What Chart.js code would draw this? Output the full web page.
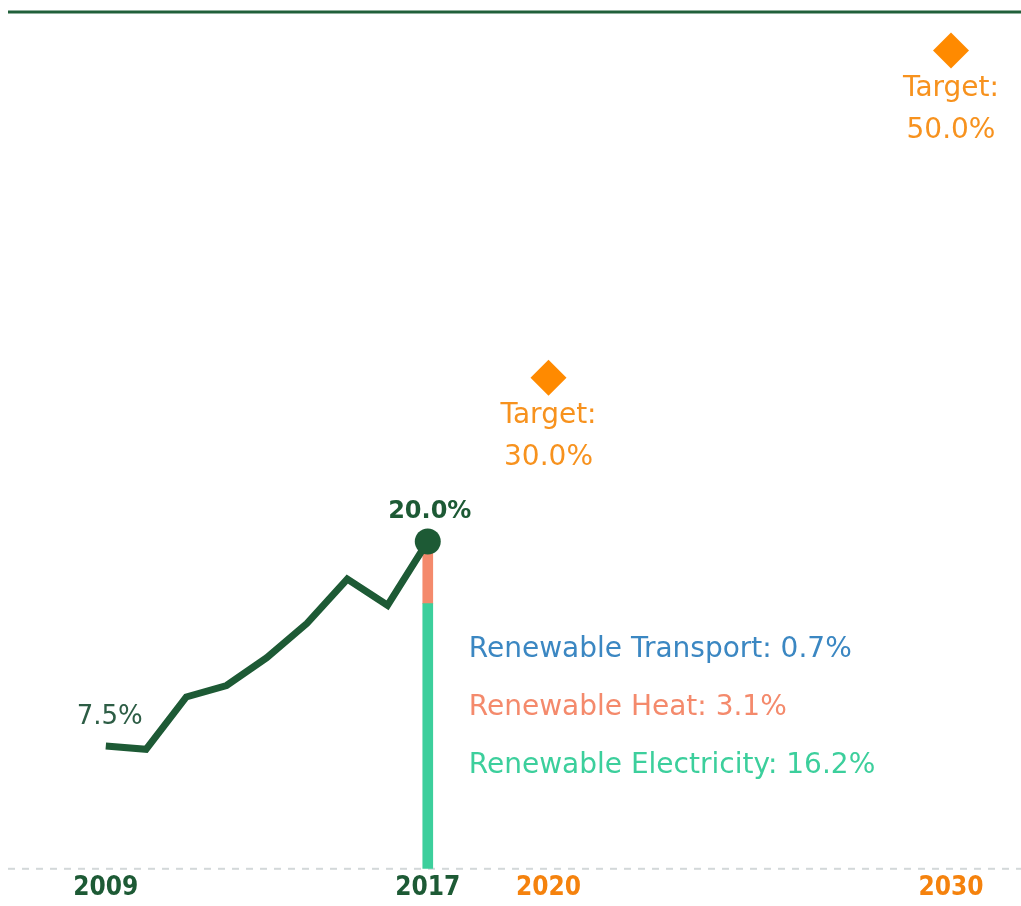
<!DOCTYPE html>
<html lang="en">
<head>
  <meta charset="UTF-8">
  <title>Renewable energy share</title>
  <script src="https://cdn.jsdelivr.net/npm/chart.js"></script>
  <style>
    html, body { margin: 0; padding: 0; background: #fff; }
    canvas { display: block; }
  </style>
</head>
<body>
  <canvas id="chart" width="1021" height="906"></canvas>

  <script>
    // data
    const years = [2009, 2010, 2011, 2012, 2013, 2014, 2015, 2016, 2017];
    const share = [7.5, 7.3, 10.5, 11.2, 12.9, 15.0, 17.7, 16.1, 20.0];
    const targetYears = [2020, 2030];
    const targetValues = [30.0, 50.0];
    const breakdownLabels = ['Renewable Electricity', 'Renewable Heat', 'Renewable Transport'];
    const breakdownValues = [16.2, 3.1, 0.7];
    const breakdownColors = ['#3ccf9c', '#f48a6c', '#3b87c2'];
    const tickYears = [2009, 2017, 2020, 2030];

    const green = '#1d5a35';
    const orange = '#f7921e';
    const lastYear = years[years.length - 1];

    // floating bar pieces stacked on top of each other
    let acc = 0;
    const barSets = breakdownValues.map((v, i) => {
      const seg = [acc, acc + v];
      acc += v;
      return {
        type: 'bar',
        label: breakdownLabels[i],
        data: [{ x: lastYear, y: seg }],
        backgroundColor: breakdownColors[i],
        barThickness: 10,
        grouped: false,
        order: 2
      };
    });

    const annotations = {
      id: 'annotations',
      beforeDraw(chart) {
        const { ctx, chartArea } = chart;
        const y0 = chart.scales.y.getPixelForValue(0);
        ctx.save();
        // top rule
        ctx.strokeStyle = '#20603a';
        ctx.lineWidth = 3;
        ctx.beginPath();
        ctx.moveTo(chartArea.left, chartArea.top);
        ctx.lineTo(chartArea.right, chartArea.top);
        ctx.stroke();
        // dashed baseline
        ctx.strokeStyle = '#d3d8d9';
        ctx.lineWidth = 2;
        ctx.setLineDash([7, 7]);
        ctx.beginPath();
        ctx.moveTo(chartArea.left, y0);
        ctx.lineTo(chartArea.right, y0);
        ctx.stroke();
        ctx.restore();
      },
      afterDatasetsDraw(chart) {
        const { ctx } = chart;
        const xs = chart.scales.x, ys = chart.scales.y;
        ctx.save();
        ctx.textAlign = 'center';
        ctx.textBaseline = 'middle';

        // targets
        ctx.font = '28px "DejaVu Sans"';
        ctx.fillStyle = orange;
        targetYears.forEach((yr, i) => {
          const px = xs.getPixelForValue(yr);
          const py = ys.getPixelForValue(targetValues[i]);
          ctx.fillText('Target:', px, py + 38);
          ctx.fillText(targetValues[i].toFixed(1) + '%', px, py + 80);
        });

        // first value
        ctx.font = '26px "DejaVu Sans"';
        ctx.fillStyle = '#2d5d45';
        ctx.fillText(share[0].toFixed(1) + '%', xs.getPixelForValue(years[0]) + 4, ys.getPixelForValue(share[0]) - 29);

        // last value
        ctx.font = 'bold 24px "DejaVu Sans"';
        ctx.fillStyle = green;
        const lx = xs.getPixelForValue(lastYear);
        const ly = ys.getPixelForValue(share[share.length - 1]);
        ctx.fillText(share[share.length - 1].toFixed(1) + '%', lx + 2, ly - 30);

        // breakdown list
        ctx.font = '28px "DejaVu Sans"';
        ctx.textAlign = 'left';
        const rows = [2, 1, 0];
        rows.forEach((k, j) => {
          ctx.fillStyle = breakdownColors[k];
          ctx.fillText(breakdownLabels[k] + ': ' + breakdownValues[k].toFixed(1) + '%', lx + 41, 650 + j * 58);
        });
        ctx.restore();
      }
    };

    new Chart(document.getElementById('chart'), {
      type: 'line',
      data: {
        datasets: [
          {
            label: 'Share of renewables',
            data: years.map((y, i) => ({ x: y, y: share[i] })),
            borderColor: green,
            backgroundColor: green,
            borderWidth: 7,
            borderJoinStyle: 'miter',
            pointRadius: years.map((y, i) => i === years.length - 1 ? 13 : 0),
            pointBorderWidth: 0,
            pointBackgroundColor: green,
            order: 1
          },
          ...barSets,
          {
            label: 'Target',
            data: targetYears.map((y, i) => ({ x: y, y: targetValues[i] })),
            showLine: false,
            pointStyle: 'rectRot',
            pointRadius: 18,
            pointBorderWidth: 0,
            pointBackgroundColor: '#ff8a00',
            clip: false,
            order: 0
          }
        ]
      },
      options: {
        responsive: false,
        animation: false,
        events: [],
        layout: { autoPadding: false, padding: { left: 8, right: 0, top: 12, bottom: -2 } },
        plugins: { legend: { display: false }, tooltip: { enabled: false } },
        scales: {
          x: {
            type: 'linear',
            offset: false,
            min: 2006.57,
            max: 2031.74,
            grid: { display: false, drawTicks: false },
            border: { display: false },
            afterBuildTicks: s => { s.ticks = tickYears.map(v => ({ value: v })); },
            ticks: {
              padding: 4,
              autoSkip: false,
              maxRotation: 0,
              callback: v => String(v),
              color: c => c.tick && c.tick.value >= 2020 ? '#f5820d' : green,
              font: { family: "'DejaVu Sans Condensed', 'DejaVu Sans'", weight: 'bold', size: 26 }
            }
          },
          y: {
            display: false,
            min: 0,
            max: 52.35
          }
        }
      },
      plugins: [annotations]
    });
  </script>
</body>
</html>
